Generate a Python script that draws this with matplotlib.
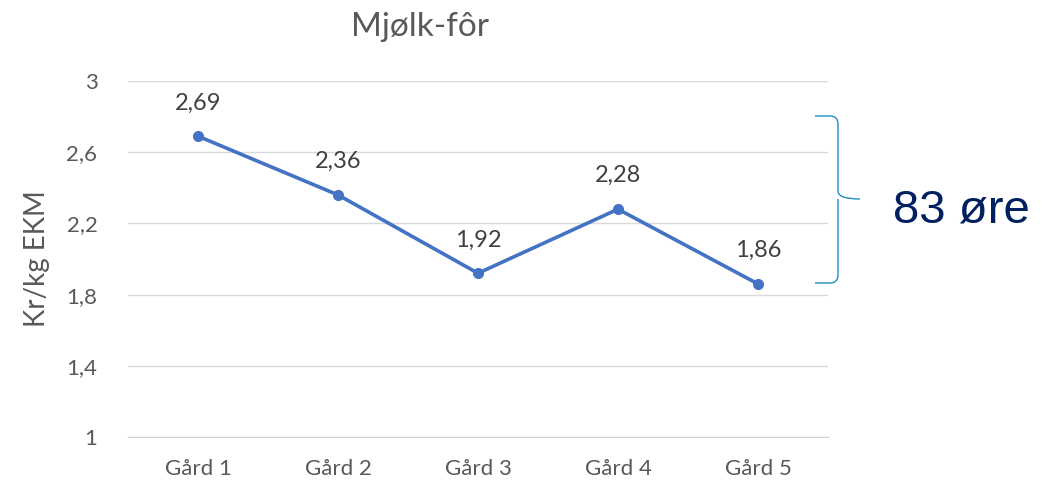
import matplotlib.pyplot as plt
from matplotlib.path import Path
from matplotlib.patches import PathPatch

plt.rcParams['font.family'] = ['Lato', 'DejaVu Sans']

farms = ['Gård 1', 'Gård 2', 'Gård 3', 'Gård 4', 'Gård 5']
values = [2.69, 2.36, 1.92, 2.28, 1.86]
yticks = [1, 1.4, 1.8, 2.2, 2.6, 3]
ytick_labels = ['1', '1,4', '1,8', '2,2', '2,6', '3']

grey = '#595959'

fig = plt.figure(figsize=(10.5, 4.98), dpi=100)
ax = fig.add_axes([128/1050, 1 - 437/498, 700/1050, 356/498])

x = range(len(farms))
ax.plot(x, values, color='#4472C4', linewidth=2.6, marker='o', markersize=7, zorder=3)
for xi, v in zip(x, values):
    ax.annotate(f'{v:.2f}'.replace('.', ','), (xi, v), xytext=(0, 24),
                textcoords='offset points', ha='center', va='center',
                fontsize=17, color='#404040')

ax.set_xlim(-0.5, len(farms) - 0.5)
ax.set_ylim(1, 3)
ax.set_yticks(yticks)
ax.set_yticklabels(ytick_labels)
ax.set_xticks(list(x))
ax.set_xticklabels(farms)
ax.tick_params(axis='both', length=0, labelsize=16, colors=grey)
ax.tick_params(axis='y', pad=22)
ax.tick_params(axis='x', pad=16)
ax.grid(axis='y', color='#d9d9d9', linewidth=1)
ax.set_axisbelow(True)
for s in ['top', 'right', 'left']:
    ax.spines[s].set_visible(False)
ax.spines['bottom'].set_color('#d0d0d0')

ax.set_ylabel('Kr/kg EKM', fontsize=20, color=grey, labelpad=12)
fig.text(420/1050, 1 - 27/498, 'Mjølk-fôr', fontsize=24, color=grey,
         ha='center', va='center')

# curly brace on the right, in pixel coords of the figure
W, H = 1050, 498
def fp(px, py):
    return (px / W, 1 - py / H)

top, bot, mid = 116, 283, 199
xl, xv, xt = 815, 838, 860
r = 8
verts = [fp(xl, top), fp(xv - r, top), fp(xv, top), fp(xv, top + r),
         fp(xv, mid - r), fp(xv, mid), fp(xt, mid),
         fp(xv, mid), fp(xv, mid + r),
         fp(xv, bot - r), fp(xv, bot), fp(xv - r, bot), fp(xl, bot)]
codes = [Path.MOVETO, Path.LINETO, Path.CURVE3, Path.CURVE3,
         Path.LINETO, Path.CURVE3, Path.CURVE3,
         Path.MOVETO, Path.CURVE3,
         Path.LINETO, Path.CURVE3, Path.CURVE3, Path.LINETO]
brace = PathPatch(Path(verts, codes), transform=fig.transFigure,
                  fill=False, edgecolor='#1f8fc0', linewidth=1.0)
fig.add_artist(brace)

fig.text(961/W, 1 - 210/H, '83 øre', fontsize=34, color='#002060',
         ha='center', va='center', family=['Liberation Sans', 'DejaVu Sans'])

fig.savefig('out.png', dpi=100)
